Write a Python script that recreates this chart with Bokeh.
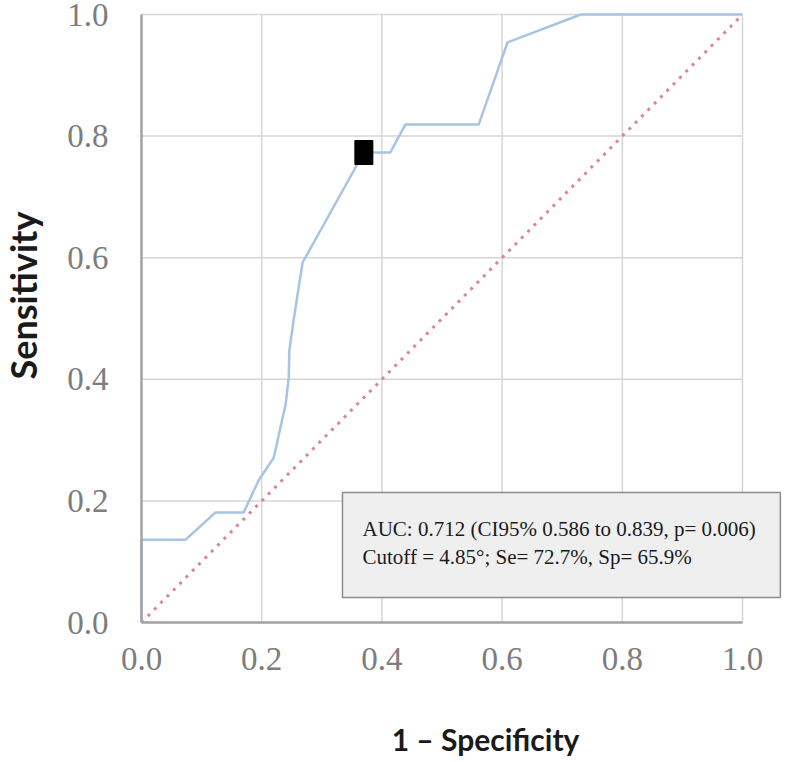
from math import pi
from bokeh.plotting import figure
from bokeh.models import BoxAnnotation, Label, FixedTicker, Range1d, NumeralTickFormatter
from bokeh.embed import file_html
from bokeh.resources import INLINE

# ROC curve (1 - specificity, sensitivity)
fpr = [0.0, 0.0, 0.073, 0.123, 0.170, 0.195, 0.220, 0.240, 0.245, 0.246, 0.253, 0.268,
       0.370, 0.414, 0.439, 0.561, 0.609, 0.731, 1.0]
tpr = [0.0, 0.136, 0.136, 0.181, 0.181, 0.234, 0.271, 0.360, 0.403, 0.447, 0.497, 0.592,
       0.773, 0.773, 0.819, 0.819, 0.954, 1.0, 1.0]
# reference (chance) line
ref_x = [0.0, 1.0]
ref_y = [0.0, 1.0]
# cut-off point
cut_x = [0.370]
cut_y = [0.773]
ticks = [0.0, 0.2, 0.4, 0.6, 0.8, 1.0]
x_title = "1 – Specificity"
y_title = "Sensitivity"
info_line1 = "AUC: 0.712 (CI95% 0.586 to 0.839, p= 0.006)"
info_line2 = "Cutoff = 4.85°; Se= 72.7%, Sp= 65.9%"

W, H = 786, 760
# the frame covers the whole canvas; axes are pinned at 0 so that titles and the
# info box (which reach outside the 0..1 square) are not clipped
PX_X = 601.0   # pixels per unit, x
PX_Y = 608.0   # pixels per unit, y
X0_PX, Y0_PX = 141, 622
x_range = Range1d(-X0_PX / PX_X, (W - X0_PX) / PX_X)
y_range = Range1d(-(H - Y0_PX) / PX_Y, Y0_PX / PX_Y)

p = figure(width=W, height=H, x_range=x_range, y_range=y_range,
           output_backend="svg", toolbar_location=None,
           min_border=0, min_border_left=0, min_border_right=0,
           min_border_top=0, min_border_bottom=0)
p.outline_line_color = None
p.background_fill_color = "white"
p.grid.visible = False

for ax in (p.xaxis[0], p.yaxis[0]):
    ax.fixed_location = 0
    ax.bounds = (0, 1)
    ax.ticker = FixedTicker(ticks=ticks)
    ax.formatter = NumeralTickFormatter(format="0.0")
    ax.major_tick_line_color = None
    ax.minor_tick_line_color = None
    ax.major_tick_out = 0
    ax.major_tick_in = 0
    ax.minor_tick_out = 0
    ax.minor_tick_in = 0
    ax.axis_line_color = "#a3a3a3"
    ax.axis_line_width = 2.5
    ax.major_label_text_font = "Liberation Serif"
    ax.major_label_text_font_size = "33px"
    ax.major_label_text_color = "#7d7d7d"

p.xaxis.major_label_standoff = 25
p.yaxis.major_label_standoff = 33

# grid lines limited to the 0..1 square
n = len(ticks)
p.segment(x0=ticks, x1=ticks, y0=[0.0] * n, y1=[1.0] * n,
          line_color="#d6d6d6", line_width=1.5, level="underlay")
p.segment(x0=[0.0] * n, x1=[1.0] * n, y0=ticks, y1=ticks,
          line_color="#d6d6d6", line_width=1.5, level="underlay")

p.line(ref_x, ref_y, line_color="#d9849a", line_width=3, line_dash="3 6")
p.line(fpr, tpr, line_color="#a7c4e5", line_width=2.5)
p.rect(x=cut_x, y=cut_y, width=18, height=24, width_units="screen", height_units="screen",
       fill_color="black", line_color="black")

box = BoxAnnotation(left=0.3344, right=1.063, bottom=0.0411, top=0.2138,
                    fill_color="#efefef", fill_alpha=1.0, line_color="#8c8c8c",
                    line_width=1.5, line_alpha=1.0)
p.add_layout(box)

for txt, yy in ((info_line1, 0.1546), (info_line2, 0.107)):
    p.add_layout(Label(x=0.3677, y=yy, text=txt, text_font="Liberation Serif",
                       text_font_size="21px", text_color="#1a1a1a",
                       text_align="left", text_baseline="middle"))

p.add_layout(Label(x=0.5724, y=-0.1908, text=x_title, text_font="Lato",
                   text_font_style="bold", text_font_size="30px", text_color="#1a1a1a",
                   text_align="center", text_baseline="middle"))
p.add_layout(Label(x=-0.198, y=0.5378, text=y_title, text_font="Lato",
                   text_font_style="bold", text_font_size="36px", text_color="#1a1a1a",
                   text_align="center", text_baseline="middle", angle=pi / 2))

open("out.html", "w").write(file_html(p, INLINE))
